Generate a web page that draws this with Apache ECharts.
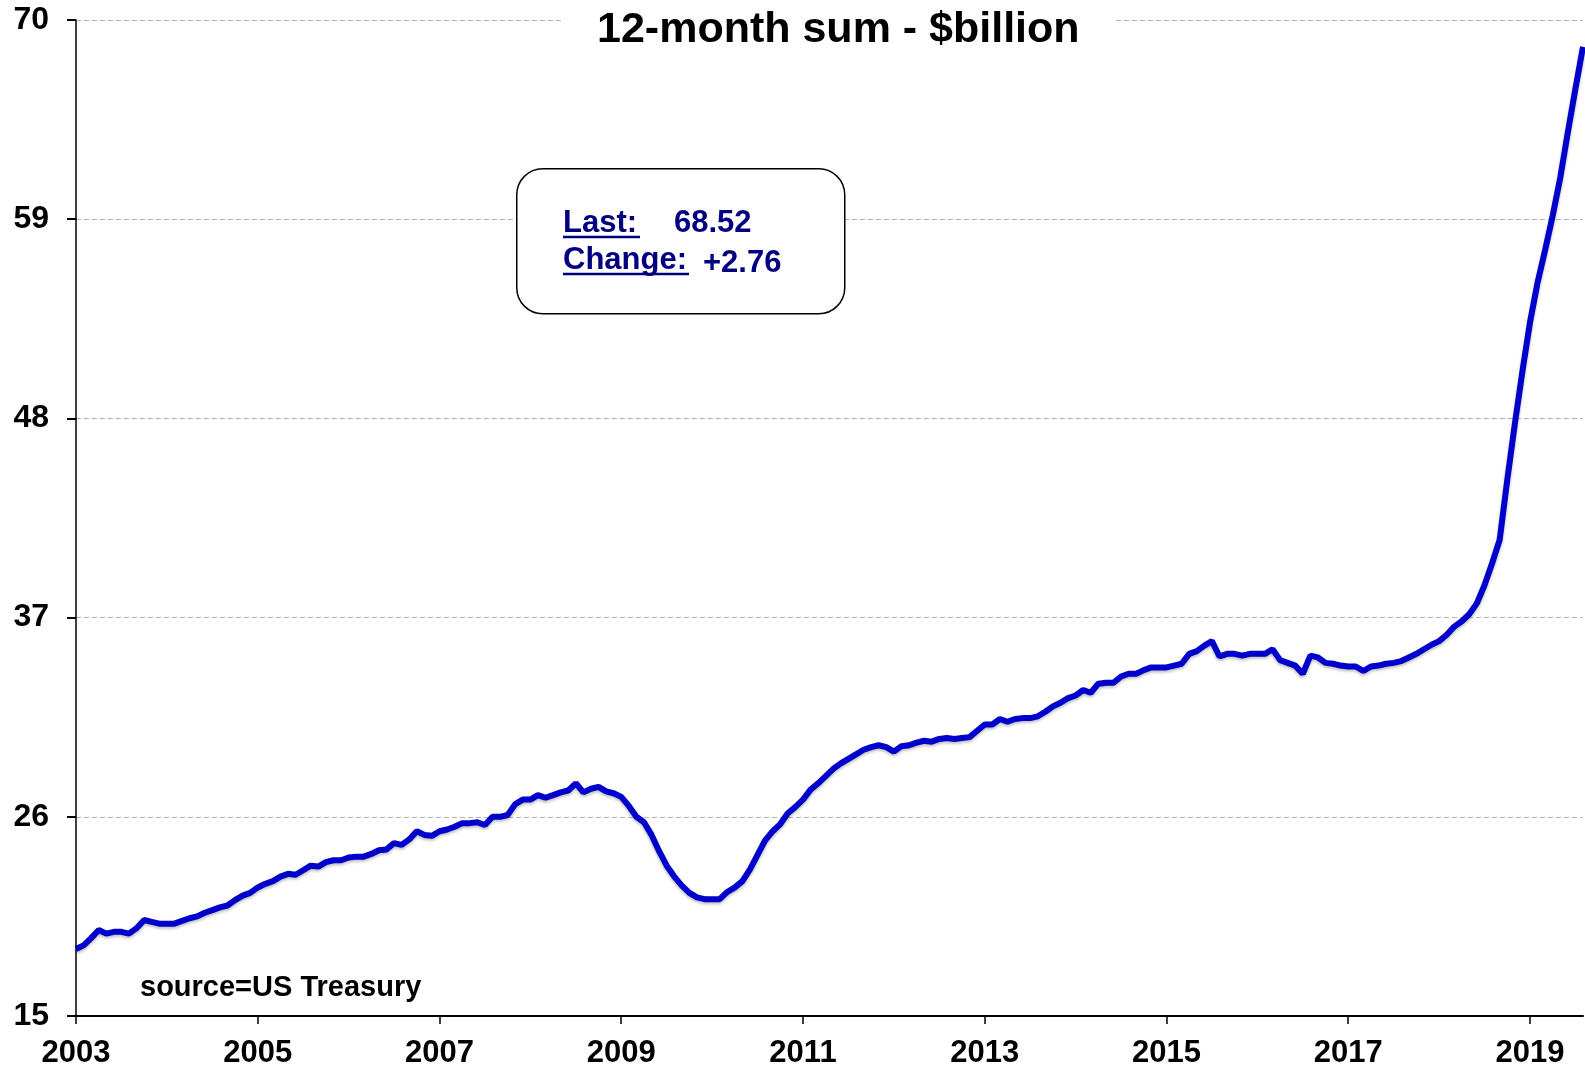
<!DOCTYPE html>
<html>
<head>
    <meta charset="UTF-8">
    <title>12-month sum</title>
    <style>
        *{
            margin: 0;
            padding: 0;
        }
        html,body{
            background: #fff;
        }
        .container{
            width: 1585px;
            height: 1070px;
        }
    </style>
    <script src="https://cdn.jsdelivr.net/npm/echarts@6/dist/echarts.min.js"></script>
</head>
<body>
<div class="container"></div>
<script>
    // monthly 12-month sums, Jan 2003 .. Aug 2019 ($bn)
    let firstYear = 2003
    let values = [
        18.7, 18.9, 19.3, 19.75, 19.55, 19.65, 19.65, 19.55, 19.85, 20.3, 20.2, 20.1,
        20.1, 20.1, 20.25, 20.4, 20.5, 20.7, 20.85, 21.0, 21.1, 21.4, 21.65, 21.8,
        22.1, 22.3, 22.45, 22.7, 22.85, 22.8, 23.05, 23.3, 23.25, 23.5, 23.6, 23.6,
        23.75, 23.8, 23.8, 23.95, 24.15, 24.2, 24.55, 24.45, 24.75, 25.2, 25.0, 24.95,
        25.2, 25.3, 25.45, 25.65, 25.65, 25.7, 25.55, 26.0, 26.0, 26.1, 26.7, 26.95,
        26.95, 27.2, 27.05, 27.2, 27.35, 27.45, 27.85, 27.35, 27.55, 27.65, 27.4, 27.3,
        27.1, 26.6, 26.0, 25.7, 25.0, 24.1, 23.3, 22.7, 22.2, 21.8, 21.55, 21.45,
        21.45, 21.45, 21.85, 22.1, 22.45, 23.1, 23.9, 24.7, 25.2, 25.6, 26.2, 26.55,
        26.95, 27.5, 27.85, 28.25, 28.65, 28.95, 29.2, 29.45, 29.7, 29.85, 29.95, 29.85,
        29.6, 29.9, 29.95, 30.1, 30.2, 30.15, 30.3, 30.35, 30.3, 30.35, 30.4, 30.75,
        31.1, 31.1, 31.4, 31.25, 31.4, 31.45, 31.45, 31.55, 31.8, 32.1, 32.3, 32.55,
        32.7, 33.0, 32.85, 33.35, 33.4, 33.4, 33.75, 33.9, 33.9, 34.1, 34.25, 34.25,
        34.25, 34.35, 34.45, 35.0, 35.15, 35.45, 35.7, 34.85, 35.0, 35.0, 34.9, 35.0,
        35.0, 35.0, 35.25, 34.65, 34.5, 34.35, 33.9, 34.9, 34.8, 34.5, 34.45, 34.35,
        34.3, 34.3, 34.05, 34.3, 34.35, 34.45, 34.5, 34.6, 34.8, 35.0, 35.25, 35.5,
        35.7, 36.05, 36.5, 36.8, 37.2, 37.8, 38.8, 40.0, 41.3, 44.6, 47.7, 50.6,
        53.3, 55.5, 57.3, 59.2, 61.3, 63.8, 66.2, 68.52
    ]
    let months = values.map((v, i) => {
        let y = firstYear + Math.floor(i / 12)
        let m = (i % 12) + 1
        return y + '-' + (m < 10 ? '0' + m : m)
    })
    let yMin = 15, yMax = 70, yStep = 11
    let lastText = '68.52'
    let changeText = '+2.76'

    let font = 'Liberation Sans, Arial, sans-serif'
    let navy = '#000080'

    let mychart = echarts.init(document.querySelector('.container'))
    let option = {
        backgroundColor: '#fff',
        animation: false,
        title: {
            text: '12-month sum - $billion',
            left: 563,
            top: 0,
            padding: [9, 36, 4, 34],
            backgroundColor: '#fff',
            textStyle: {
                fontFamily: font,
                fontSize: 43,
                fontWeight: 'bold',
                color: '#000'
            }
        },
        grid: {
            left: 76,
            right: 2,
            top: 20,
            bottom: 54
        },
        xAxis: {
            type: 'category',
            data: months,
            boundaryGap: false,
            axisLine: {lineStyle: {color: '#000', width: 2}},
            axisTick: {show: true, interval: 23, length: 8, lineStyle: {color: '#000', width: 1.5}},
            axisLabel: {
                interval: 23,
                margin: 22,
                fontFamily: font,
                fontSize: 31,
                fontWeight: 'bold',
                color: '#000',
                formatter: v => v.slice(0, 4)
            },
            splitLine: {show: false}
        },
        yAxis: {
            type: 'value',
            min: yMin,
            max: yMax,
            interval: yStep,
            axisLine: {show: true, lineStyle: {color: '#000', width: 1.5}},
            axisTick: {show: true, length: 9, lineStyle: {color: '#000', width: 2}},
            axisLabel: {
                margin: 27,
                fontFamily: font,
                fontSize: 32,
                fontWeight: 'bold',
                color: '#000'
            },
            splitLine: {
                lineStyle: {color: '#b4b4b4', type: [5, 3], width: 1}
            }
        },
        series: [{
            type: 'line',
            data: values,
            showSymbol: false,
            lineStyle: {
                color: '#0000cc',
                width: 6,
                shadowColor: 'rgba(0,0,0,0.25)',
                shadowBlur: 3,
                shadowOffsetY: 2
            }
        }],
        graphic: [
            {
                type: 'rect',
                left: 516, top: 168,
                shape: {width: 328, height: 145, r: 26},
                style: {fill: '#fff', stroke: '#000', lineWidth: 1.5},
                z: 10
            },
            {
                type: 'text', left: 563, top: 208, z: 11,
                style: {text: 'Last:', fill: navy, font: 'bold 31px ' + font}
            },
            {
                type: 'line', z: 11,
                shape: {x1: 563, y1: 237, x2: 640, y2: 237},
                style: {stroke: navy, lineWidth: 2.5}
            },
            {
                type: 'text', left: 674, top: 208, z: 11,
                style: {text: lastText, fill: navy, font: 'bold 31px ' + font}
            },
            {
                type: 'text', left: 563, top: 245, z: 11,
                style: {text: 'Change:', fill: navy, font: 'bold 31px ' + font}
            },
            {
                type: 'line', z: 11,
                shape: {x1: 563, y1: 274, x2: 689, y2: 274},
                style: {stroke: navy, lineWidth: 2.5}
            },
            {
                type: 'text', left: 703, top: 248, z: 11,
                style: {text: changeText, fill: navy, font: 'bold 31px ' + font}
            },
            {
                type: 'text', left: 140, top: 973, z: 11,
                style: {text: 'source=US Treasury', fill: '#000', font: 'bold 29px ' + font}
            }
        ]
    }
    mychart.setOption(option)
</script>
</body>
</html>
